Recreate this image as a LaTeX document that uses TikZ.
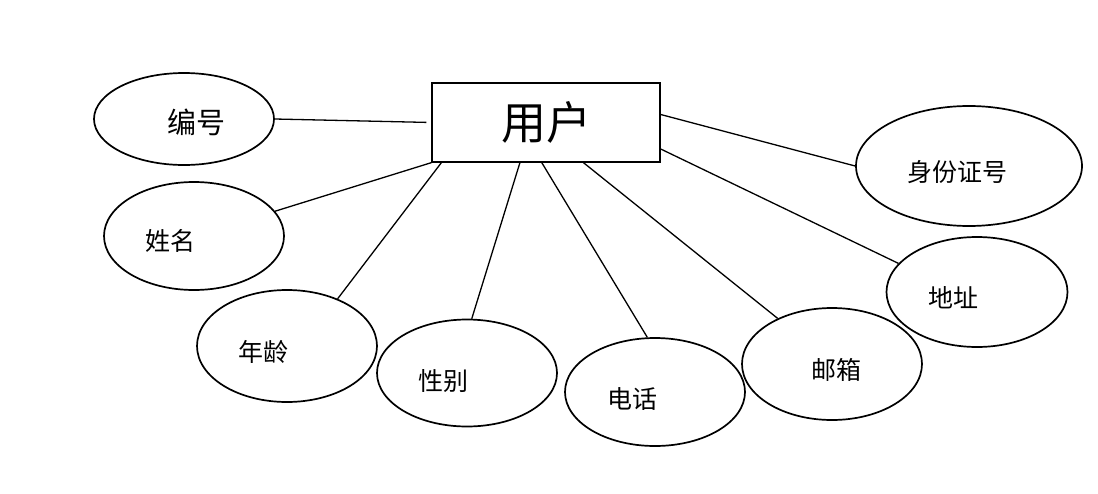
\documentclass[tikz,border=0pt]{standalone}
\usepackage{fontspec}
\newfontfamily\cjk{Noto Sans CJK SC}
\usetikzlibrary{
    shapes.geometric
}
\tikzset{
    entity/.style={
        rectangle, draw,
        line width=1.3pt,
        minimum width=228pt,
        minimum height=79pt,
        font=\cjk\fontsize{45}{50}\selectfont
    },
    attr/.style={
        ellipse, draw,
        line width=1.7pt,
        minimum width=180pt,
        minimum height=108pt,
        inner sep=0pt
    },
    attrtext/.style={
        font=\cjk\fontsize{25}{30}\selectfont,
        inner sep=0pt
    },
    link/.style={
        line width=1.3pt
    }
}

\begin{document}
\begin{tikzpicture}[
    x=1pt,
    y=-1pt
]
    \useasboundingbox (0,0) rectangle (1098,493);

    % Entidad
    \node[entity] (user) at (546,122.5) {用户};

    % Atributos
    \node[attr, minimum height=92pt,
          label={[attrtext, font=\cjk\fontsize{29}{34}\selectfont,
                  xshift=12pt, yshift=-3pt]center:编号}]
          (bianhao) at (184,119) {};
    \node[attr,
          label={[attrtext, xshift=-24pt, yshift=-5pt]center:姓名}]
          (xingming) at (194,236) {};
    \node[attr, minimum height=112pt,
          label={[attrtext, xshift=-24pt, yshift=-6pt]center:年龄}]
          (nianling) at (287,346) {};
    \node[attr, minimum height=107pt,
          label={[attrtext, xshift=-24pt, yshift=-8pt]center:性别}]
          (xingbie) at (467,373) {};
    \node[attr,
          label={[attrtext, xshift=-23pt, yshift=-7pt]center:电话}]
          (dianhua) at (655,392) {};
    \node[attr, minimum height=112pt,
          label={[attrtext, xshift=4pt, yshift=-6pt]center:邮箱}]
          (youxiang) at (832,364) {};
    \node[attr, minimum width=181pt, minimum height=110pt,
          label={[attrtext, xshift=-24pt, yshift=-6pt]center:地址}]
          (dizhi) at (977,292) {};
    \node[attr, minimum width=226pt, minimum height=120pt,
          label={[attrtext, xshift=-12pt, yshift=-6pt]center:身份证号}]
          (shenfen) at (969,166) {};

    % Relaciones
    \draw[link, shorten >=5pt] (bianhao.east) -- (user.west);
    \draw[link] (xingming.17)  -- (user.south west);
    \draw[link] (nianling.43)  -- (user.201);
    \draw[link] (xingbie.85)   -- (user.237);
    \draw[link] (dianhua.98)   -- (user.264);
    \draw[link] (youxiang.140) -- (user.313);
    \draw[link] (dizhi.160)    -- (user.347);
    \draw[link] (shenfen.west) -- (user.4);

\end{tikzpicture}
\end{document}
